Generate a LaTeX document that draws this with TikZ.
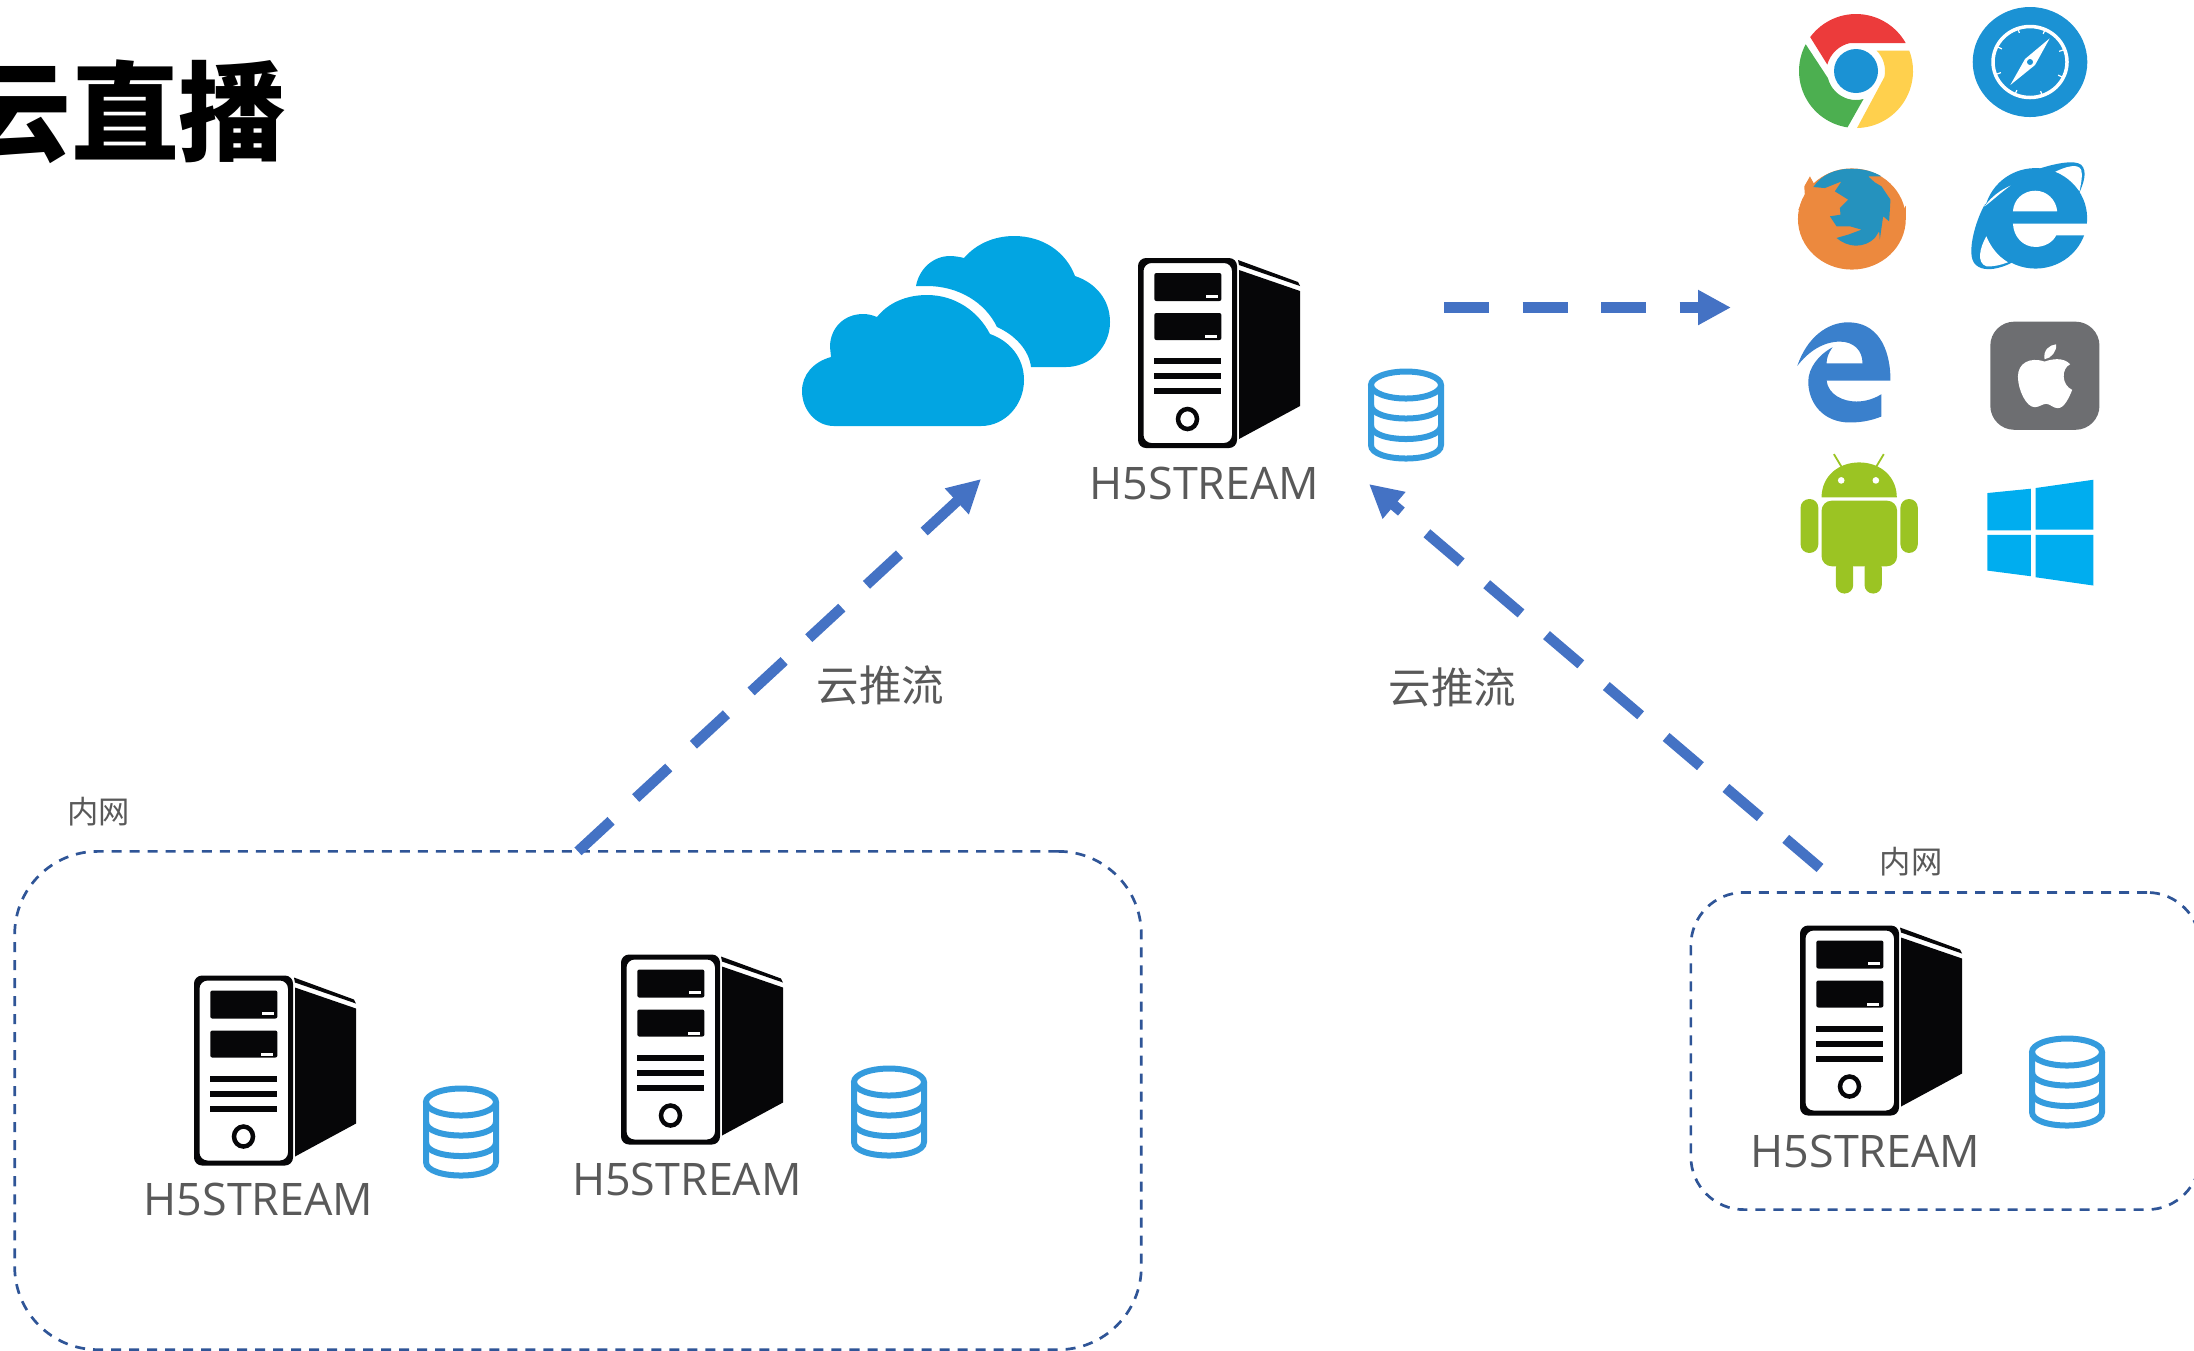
\documentclass[tikz,border=0pt]{standalone}
\usepackage{fontspec}
\setmainfont{Open Sans}
\newfontfamily\cjk{Noto Sans CJK SC}
\newfontfamily\cjkheavy{Noto Sans CJK SC Black}
\usetikzlibrary{arrows.meta}
\definecolor{pushblue}{HTML}{4472C4}
\definecolor{lanblue}{HTML}{2F5597}
\definecolor{dbblue}{HTML}{349BDD}
\definecolor{cloudblue}{HTML}{02A5E2}
\definecolor{labelgray}{HTML}{595959}
\definecolor{iconblue}{HTML}{1B92D4}
\definecolor{towerblack}{HTML}{060608}
\definecolor{chromered}{HTML}{EC3B3B}
\definecolor{chromegreen}{HTML}{4CAF50}
\definecolor{chromeyellow}{HTML}{FFD04D}
\definecolor{foxorange}{HTML}{EC893E}
\definecolor{foxblue}{HTML}{2592BE}
\definecolor{edgeblue}{HTML}{3A80CC}
\definecolor{applegray}{HTML}{6D6E71}
\definecolor{droidgreen}{HTML}{9BC423}
\definecolor{winblue}{HTML}{00ADEF}
\tikzset{
	pushline/.style={line width=0.105cm,pushblue,dash pattern=on 0.45cm off 0.335cm,-{Triangle[length=0.33cm,width=0.33cm]}},
	lanbox/.style={draw=lanblue,line width=0.027cm,dash pattern=on 0.1cm off 0.08cm,inner sep=0,outer sep=0},
	h5label/.style={anchor=base,inner sep=0,text=labelgray,font=\fontsize{12.75}{15}\selectfont},
	pushlabel/.style={inner sep=0,text=labelgray,font=\cjk\fontsize{12.1}{14}\selectfont},
	lanlabel/.style={inner sep=0,text=labelgray,font=\cjk\fontsize{8.9}{10}\selectfont},
	icon/.style={x=1cm,y=1cm,scale=0.01},
	zoomgrid/.style={x=0.003333cm,y=-0.003333cm},
	pics/servertower/.style={code={
		\fill[towerblack,even odd rule,rounded corners=0.08cm] (0,0) rectangle (99,190) (5.5,5) rectangle (94,185);
		\fill[towerblack,rounded corners=0.02cm] (16.3,15) rectangle (83.4,43);
		\fill[towerblack,rounded corners=0.02cm] (16.3,55) rectangle (83.4,82);
		\fill[white] (68,36.5) rectangle (80,39.5);
		\fill[white] (67,77) rectangle (79,80);
		\fill[towerblack] (16.3,100) rectangle (83.4,106);
		\fill[towerblack] (16.3,115) rectangle (83.4,121);
		\fill[towerblack] (16.3,130) rectangle (83.4,136);
		\draw[towerblack,line width=0.045cm] (49.5,161) ellipse [x radius=9.5,y radius=10];
		\fill[towerblack] (100,2) -- (160,24) -- (162,28) -- (101,7) -- cycle;
		\fill[towerblack] (101,12) -- (162,33) -- (162,148) -- (101,181) -- cycle;
	}},
	pics/dbstack/.style={code={
		\draw[dbblue,line width=0.06cm] (38,16.5) ellipse [x radius=35,y radius=13.5];
		\draw[dbblue,line width=0.06cm] (3,16.5) -- (3,76.5) .. controls (3,94.5) and (73,94.5) .. (73,76.5) -- (73,16.5);
		\draw[dbblue,line width=0.06cm] (3,36.5) .. controls (3,54.5) and (73,54.5) .. (73,36.5);
		\draw[dbblue,line width=0.06cm] (3,57) .. controls (3,75) and (73,75) .. (73,57);
	}}
}
\begin{document}
\begin{tikzpicture}[x=0.01cm,y=-0.01cm]
	\useasboundingbox (0,0) rectangle (2194,1350);

	\node[inner sep=0,text=black,font=\cjkheavy\fontsize{30.7}{32}\selectfont] (title) at (125,112) {云直播};

	\node[lanbox,rounded corners=0.83cm,minimum width=11.26cm,minimum height=4.98cm] (lanLeft) at (578,1100.5) {};
	\node[lanbox,rounded corners=0.53cm,minimum width=5.09cm,minimum height=3.17cm] (lanRight) at (1945.5,1051) {};
	\node[lanlabel] (lanLeftText) at (98.5,812) {内网};
	\node[lanlabel] (lanRightText) at (1911,862) {内网};

	% clouds
	\fill[cloudblue] (916,286) .. controls (919,269) and (933,256) .. (950,256) .. controls (955,256) and (960,257) .. (964,258) .. controls (976,244) and (994,236) .. (1014,236) .. controls (1043,236) and (1066,252) .. (1075,276) .. controls (1096,283) and (1110,300) .. (1110,322) .. controls (1110,347) and (1090,367) .. (1066,367) -- (1031,367) .. controls (1029,350) and (1015,335) .. (997,327) .. controls (985,302) and (958,286) .. (927,286) -- cycle;
	\fill[cloudblue] (831,357) .. controls (813,362) and (802,375) .. (802,391) .. controls (802,410) and (816,426) .. (834,426) -- (981,426) .. controls (1005,426) and (1024,405) .. (1024,380) .. controls (1024,358) and (1010,341) .. (990,334) .. controls (978,311) and (955,295) .. (927,295) .. controls (906,295) and (888,303) .. (877,317) .. controls (872,315) and (868,314) .. (863,314) .. controls (844,314) and (830,328) .. (830,347) -- cycle;

	% servers
	\pic at (1138,258) {servertower};
	\pic at (194,975.5) {servertower};
	\pic at (621,954.5) {servertower};
	\pic at (1800,925.5) {servertower};

	\pic at (1368,368.5) {dbstack};
	\pic at (423,1085.5) {dbstack};
	\pic at (851,1065.5) {dbstack};
	\pic at (2029,1035.5) {dbstack};

	\node[h5label] (h5Top) at (1204.5,499) {H5STREAM};
	\node[h5label] (h5Left) at (258.5,1215.5) {H5STREAM};
	\node[h5label] (h5Mid) at (687,1195.5) {H5STREAM};
	\node[h5label] (h5Right) at (1865.5,1167) {H5STREAM};

	% push arrows
	\coordinate (pushLeftEnd) at (981,479);
	\coordinate (pushRightStart) at (1820,868);
	\coordinate (pushRightEnd) at (1369,484);
	\coordinate (pullStart) at (1444,307.5);
	\coordinate (pullEnd) at (1731,307.5);
	\draw[pushline] (lanLeft.north) -- (pushLeftEnd);
	\draw[pushline] (pushRightStart) -- (pushRightEnd);
	\draw[pushline] (pullStart) -- (pullEnd);
	\node[pushlabel] (pushLeftText) at (880.5,685) {云推流};
	\node[pushlabel] (pushRightText) at (1452.5,687) {云推流};

	% chrome
	\begin{scope}[shift={(1856,71)},icon]
		\fill[chromered] (143.5:57) arc[start angle=143.5,end angle=29.4,radius=57] -- (102:28.6) arc[start angle=102,end angle=165,radius=30] -- cycle;
		\fill[chromegreen] (152:57) arc[start angle=152,end angle=261.4,radius=57] -- (285:29) arc[start angle=285,end angle=194,radius=29] -- cycle;
		\fill[chromeyellow] (21:57) arc[start angle=21,end angle=-89,radius=57] -- (-12:29) arc[start angle=-12,end angle=45,radius=29] -- cycle;
		\fill[iconblue] (0,0) circle[radius=22];
	\end{scope}

	% safari
	\begin{scope}[shift={(2030,62)},icon]
		\fill[iconblue] (0,0) ellipse[x radius=57.3,y radius=55];
		\draw[white,line width=0.035cm] (0,0) ellipse[x radius=37,y radius=35.5];
		\foreach \a in {20,65,110,155,200,245,290,335} {
			\draw[white,line width=0.012cm] (\a:36) -- (\a:31);
		}
		\fill[white] (19.7,23.7) -- (5,-3) -- (-19.7,-23) -- (-5,3) -- cycle;
		\fill[iconblue] (0,0) circle[radius=3];
	\end{scope}

	% firefox, ie
	\begin{scope}[shift={(1760,0)},zoomgrid]
		\fill[foxorange] (276,658) ellipse[x radius=162,y radius=152];
		\fill[foxorange] (115,630) -- (135,590) -- (133,560) -- (150,530) -- (172,570) -- (170,640) -- cycle;
		\fill[foxorange] (425,640) -- (438,618) -- (438,660) -- cycle;
		\fill[foxblue] (160,562) .. controls (185,525) and (225,507) .. (275,507) .. controls (310,507) and (340,515) .. (365,530) -- (325,530) -- (345,548) -- (365,560) -- (392,600) -- (388,665) -- (370,650) -- (360,720) -- (358,695) -- (345,715) .. controls (330,730) and (310,738) .. (290,738) .. controls (265,738) and (245,728) .. (230,715) -- (265,705) -- (305,690) -- (270,680) -- (230,680) -- (210,650) -- (242,645) -- (240,625) -- (265,600) -- (225,575) -- (245,545) -- (195,565) -- cycle;

		\fill[iconblue] (835,508) .. controls (890,490) and (945,480) .. (965,495) .. controls (985,515) and (972,550) .. (960,578) -- (900,560) -- cycle;
		\fill[white] (885,517) .. controls (920,500) and (955,490) .. (965,510) .. controls (970,525) and (965,550) .. (960,575) -- cycle;
		\fill[iconblue] (675,615) .. controls (650,660) and (630,730) .. (636,770) .. controls (640,800) and (665,812) .. (700,808) .. controls (720,805) and (740,798) .. (755,790) -- (800,700) -- (760,560) -- cycle;
		\fill[white] (680,710) .. controls (660,745) and (650,790) .. (680,800) .. controls (700,802) and (725,796) .. (745,788) .. controls (715,770) and (695,745) .. (680,710) -- cycle;
		\fill[iconblue] (828,656) ellipse[x radius=155,y radius=151];
		\fill[white] (675,620) .. controls (695,590) and (725,570) .. (752,558) .. controls (720,582) and (695,605) .. (675,620) -- (660,600) -- (700,540) -- (660,560) -- cycle;
		\fill[white] (760,635) .. controls (762,600) and (790,573) .. (827,573) .. controls (862,573) and (890,600) .. (893,635) -- cycle;
		\fill[white] (760,672) -- (990,672) -- (990,707) -- (890,707) .. controls (880,728) and (855,742) .. (828,742) .. controls (790,742) and (762,712) .. (760,672) -- cycle;
	\end{scope}

	% edge, apple, android, windows
	\begin{scope}[shift={(1760,300)},zoomgrid]
		\fill[edgeblue] (112,198) .. controls (140,115) and (200,67) .. (265,67) .. controls (350,67) and (392,140) .. (392,242) -- (200,242) .. controls (205,285) and (250,305) .. (290,305) .. controls (320,305) and (345,295) .. (365,283) -- (365,350) .. controls (335,362) and (305,368) .. (270,368) .. controls (190,368) and (145,310) .. (145,245) .. controls (145,205) and (175,165) .. (218,142) .. controls (205,160) and (200,175) .. (200,190) -- (308,190) .. controls (308,150) and (280,125) .. (240,125) .. controls (190,125) and (145,155) .. (112,198) -- cycle;

		\fill[applegray,rounded corners=0.24cm] (692,65) rectangle (1020,390);
		\fill[white] (855,178) .. controls (850,150) and (870,135) .. (890,133) .. controls (892,155) and (875,175) .. (855,178) -- cycle;
		\fill[white] (855,185) .. controls (810,170) and (775,190) .. (775,230) .. controls (775,270) and (800,322) .. (825,322) .. controls (840,322) and (848,312) .. (860,312) .. controls (872,312) and (880,325) .. (895,325) .. controls (915,325) and (930,290) .. (938,270) .. controls (905,255) and (905,205) .. (932,193) .. controls (910,170) and (875,178) .. (855,185) -- cycle;

		\fill[droidgreen] (185,593) .. controls (185,530) and (235,488) .. (298,488) .. controls (361,488) and (411,530) .. (411,593) -- cycle;
		\draw[droidgreen,line width=0.018cm] (222,463) -- (246,503);
		\draw[droidgreen,line width=0.018cm] (372,463) -- (348,503);
		\fill[white] (244,542) circle[radius=10];
		\fill[white] (348,542) circle[radius=10];
		\fill[droidgreen,rounded corners=0.1cm] (185,603) -- (412,603) -- (412,800) -- (185,800) -- cycle;
		\fill[droidgreen,rounded corners=0.085cm] (122,598) rectangle (175,760);
		\fill[droidgreen,rounded corners=0.085cm] (422,598) rectangle (474,760);
		\fill[droidgreen,rounded corners=0.085cm] (228,780) rectangle (280,882);
		\fill[droidgreen,rounded corners=0.085cm] (314,780) rectangle (366,882);

		\fill[winblue] (683,580) -- (814,567) -- (814,692) -- (683,692) -- cycle;
		\fill[winblue] (828,565) -- (1002,540) -- (1002,690) -- (828,690) -- cycle;
		\fill[winblue] (683,706) -- (814,706) -- (814,830) -- (683,813) -- cycle;
		\fill[winblue] (828,706) -- (1002,706) -- (1002,858) -- (828,833) -- cycle;
	\end{scope}
\end{tikzpicture}
\end{document}
